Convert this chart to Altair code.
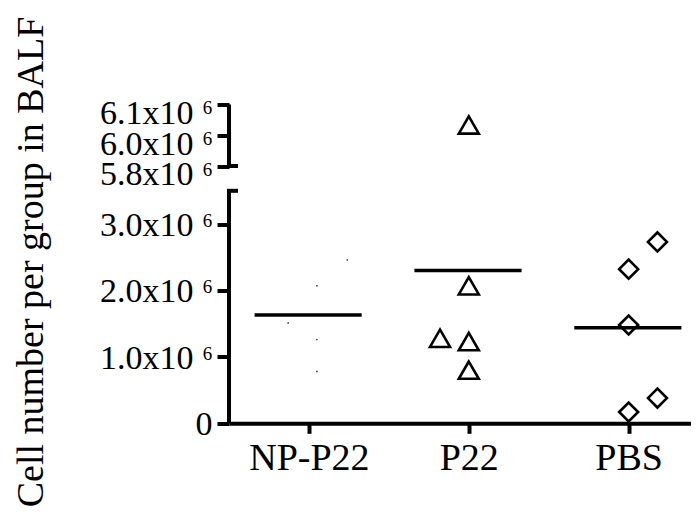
import altair as alt
import pandas as pd

# ---- data ----
groups = ["NP-P22", "P22", "PBS"]

np_values = [2.46e6, 2.07e6, 1.51e6, 1.26e6, 0.78e6]
np_jitter = [0.24, 0.05, -0.13, 0.05, 0.05]

p22_values = [6.0e6, 2.07e6, 1.28e6, 1.23e6, 0.80e6]
p22_jitter = [0.0, 0.0, -0.18, 0.0, 0.0]

pbs_values = [2.73e6, 2.32e6, 1.48e6, 0.38e6, 0.17e6]
pbs_jitter = [0.18, 0.0, 0.0, 0.18, 0.0]

mean_values = [1.63e6, 2.30e6, 1.44e6]

tick_values = [0, 1000000, 2000000, 3000000, 5800000, 5950000, 6100000]
tick_labels = ["0", "1.0x10", "2.0x10", "3.0x10", "5.8x10", "6.0x10", "6.1x10"]
tick_exponents = ["", "6", "6", "6", "6", "6", "6"]

axis_segments_start = [0, 5800000]
axis_segments_end = [3500000, 6100000]
break_caps = [3500000, 5800000]

# ---- tables ----
np_df = pd.DataFrame({"x": [0 + j for j in np_jitter], "v": np_values})
p22_df = pd.DataFrame({"x": [1 + j for j in p22_jitter], "v": p22_values})
pbs_df = pd.DataFrame({"x": [2 + j for j in pbs_jitter], "v": pbs_values})
mean_df = pd.DataFrame({
    "x1": [i - 0.34 for i in range(len(groups))],
    "x2": [i + 0.33 for i in range(len(groups))],
    "v": mean_values,
})
sup_df = pd.DataFrame({"v": tick_values, "t": tick_exponents})
sup_low = sup_df[(sup_df["t"] != "") & (sup_df["v"] < 3500000)]
sup_high = sup_df[(sup_df["t"] != "") & (sup_df["v"] > 3500000)]
seg_df = pd.DataFrame({"v": axis_segments_start, "v2": axis_segments_end})
cap_df = pd.DataFrame({"v": break_caps})

FONT = "Liberation Serif"

y_scale = alt.Scale(domain=[0, 3500000, 5800000, 6100000],
                    range=[318.8, 86.3, 61.5, 0], nice=False, zero=False)
x_scale = alt.Scale(domain=[-0.5, 2.39], nice=False, zero=False)

label_expr_y = "[" + ",".join("'%s'" % s for s in tick_labels) + "][indexof([" + \
    ",".join(str(v) for v in tick_values) + "], datum.value)]"
label_expr_x = "[" + ",".join("'%s'" % g for g in groups) + "][datum.value]"

y_axis = alt.Axis(
    values=tick_values, labelExpr=label_expr_y, domain=False, grid=False,
    tickSize=12, tickWidth=4, tickColor="black",
    labelFont=FONT, labelFontSize=34, labelColor="black",
    labelAlign="right", labelBaseline="alphabetic",
    labelOffset={"condition": {"test": "datum.value > 4000000", "value": 19}, "value": 11.5},
    labelPadding={"condition": {"test": "datum.value == 0", "value": 5}, "value": 24},
    labelOverlap=False, labelFlush=False,
    title="Cell number per group in BALF", titleFont=FONT, titleFontSize=38,
    titleFontWeight="normal", titleColor="black", titleAngle=270,
    titleX=-187, titleY=157, titleAlign="center", titleBaseline="alphabetic",
)
x_axis = alt.Axis(
    values=[0, 1, 2], labelExpr=label_expr_x, grid=False,
    tickSize=10, tickWidth=4, tickColor="black",
    domainWidth=4, domainColor="black",
    labelFont=FONT, labelFontSize=38, labelColor="black", labelPadding=6,
    labelOverlap=False, labelFlush=False, title=None,
)

X = alt.X("x:Q", scale=x_scale, axis=x_axis)
Y = alt.Y("v:Q", scale=y_scale, axis=y_axis)

dots = alt.Chart(np_df).mark_point(shape="square", filled=True, size=2,
                                   color="#222", opacity=1).encode(x=X, y=Y)
tri = alt.Chart(p22_df).mark_point(shape="triangle-up", filled=False, size=400,
                                   stroke="black", strokeWidth=2.6, opacity=1).encode(x=X, y=Y)
dia = alt.Chart(pbs_df).mark_point(shape="diamond", filled=False, size=360,
                                   stroke="black", strokeWidth=2.6, opacity=1).encode(x=X, y=Y)
means = alt.Chart(mean_df).mark_rule(color="black", strokeWidth=3.5).encode(
    x=alt.X("x1:Q", scale=x_scale, axis=x_axis), x2="x2:Q", y=Y)
segs = alt.Chart(seg_df).mark_rule(color="black", strokeWidth=4).encode(
    x=alt.value(0), y=Y, y2="v2:Q")
caps = alt.Chart(cap_df).mark_rule(color="black", strokeWidth=4).encode(
    x=alt.value(-2), x2=alt.value(9), y=Y)
sup1 = alt.Chart(sup_low).mark_text(font=FONT, fontSize=19, color="black",
                                    align="center", baseline="alphabetic", dy=3).encode(
    x=alt.value(-21.5), y=Y, text="t:N")
sup2 = alt.Chart(sup_high).mark_text(font=FONT, fontSize=19, color="black",
                                     align="center", baseline="alphabetic", dy=10).encode(
    x=alt.value(-21.5), y=Y, text="t:N")

chart = alt.layer(means, dots, tri, dia, segs, caps, sup1, sup2).properties(
    width=462, height=318.8,
    padding={"left": 221, "top": 96.5, "right": 0, "bottom": 87},
    autosize=alt.AutoSizeParams(type="none"),
    background="white",
).configure_view(stroke=None)

chart.save("out.html", embed_options={"renderer": "svg", "actions": False})
